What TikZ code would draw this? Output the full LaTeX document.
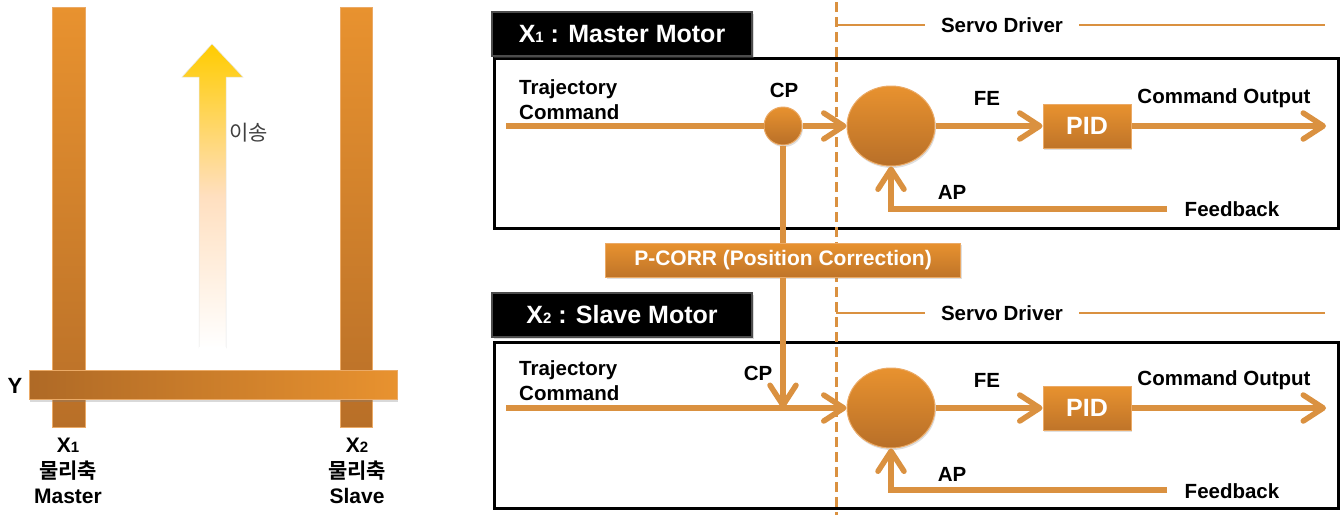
\documentclass[tikz,border=0pt]{standalone}
\usepackage{fontspec}
\setmainfont{Liberation Sans}
\newfontfamily\kr[BoldFont={Noto Sans CJK KR Bold}]{Noto Sans CJK KR}
\usetikzlibrary{arrows.meta,shapes.geometric,shadows}
\definecolor{lineor}{HTML}{DA9140}
\definecolor{barlight}{HTML}{E8922F}
\definecolor{bardark}{HTML}{B86F28}
\definecolor{edgeor}{HTML}{EBAA66}
\definecolor{krgray}{HTML}{404040}
\tikzset{
  flow/.style={draw=lineor, line width=5.5pt},
  arr/.style={flow, -{Straight Barb[length=20pt,width=26pt,round]}},
  lbl/.style={font=\bfseries\fontsize{20.5}{25}\selectfont, inner sep=0pt, align=left},
  sumc/.style={ellipse, minimum width=88pt, minimum height=80pt, top color=barlight, bottom color=bardark, draw=edgeor, line width=1pt, inner sep=0pt,
     drop shadow={opacity=0.25, shadow xshift=1pt, shadow yshift=-2pt}},
  cpc/.style={circle, minimum size=38pt, top color=barlight, bottom color=bardark, draw=edgeor, line width=1pt, inner sep=0pt,
     drop shadow={opacity=0.25, shadow xshift=1pt, shadow yshift=-2pt}},
  pidbox/.style={rectangle, minimum width=88pt, minimum height=44pt, top color=barlight, bottom color=bardark!85!barlight, draw=edgeor, line width=1pt,
     text=white, font=\bfseries\fontsize{25}{25}\selectfont, inner sep=0pt,
     drop shadow={opacity=0.25, shadow xshift=1pt, shadow yshift=-2pt}},
  hdr/.style={rectangle, minimum width=260pt, minimum height=44pt, fill=black, draw=black!70, line width=1.5pt,
     text=white, font=\bfseries\fontsize{25}{25}\selectfont, inner sep=0pt,
     drop shadow={opacity=0.3, shadow xshift=2pt, shadow yshift=-2pt}},
  boxline/.style={draw=black, line width=3pt},
  dashv/.style={draw=lineor, line width=3pt, dash pattern=on 10pt off 5pt},
  sdline/.style={draw=lineor, line width=2pt},
  vbar/.style={top color=barlight, bottom color=bardark, draw=edgeor, line width=0.8pt},
}
\newcommand{\subd}[1]{{\fontsize{15}{15}\selectfont #1}}
\begin{document}
\begin{tikzpicture}[x=1pt,y=-1pt]
\useasboundingbox (0,0) rectangle (1341,515);
% ---------- left part ----------
\path[vbar] (52,7) rectangle (85,427);
\path[vbar] (340,7) rectangle (372,427);
\path[left color=bardark!95!black, right color=barlight, draw=edgeor, line width=0.8pt,
      drop shadow={opacity=0.3, shadow xshift=1pt, shadow yshift=-3pt}] (29,370) rectangle (397,399);
\path[top color=yellow!60!orange!100, bottom color=white, middle color=orange!25!white, draw=black!10, line width=0.5pt]
  (199,348) -- (199,77) -- (182,77) -- (212,44) -- (243,77) -- (226,77) -- (226,348) -- cycle;
\fill[white] (199,347) rectangle (226,349);
\node[font=\kr\fontsize{21}{21}\selectfont, text=krgray, anchor=west, inner sep=0pt] (move) at (229,133) {이송};
\node[font=\bfseries\fontsize{22}{22}\selectfont, inner sep=0pt] (ylab) at (15,386) {Y};
\node[font=\bfseries\fontsize{21}{25.5}\selectfont, align=center, inner sep=0pt, anchor=north] (x1lab) at (68,438)
  {X\subd{1}\\{\kr\bfseries 물리축}\\Master};
\node[font=\bfseries\fontsize{21}{25.5}\selectfont, align=center, inner sep=0pt, anchor=north] (x2lab) at (357,438)
  {X\subd{2}\\{\kr\bfseries 물리축}\\Slave};
% ---------- box outlines ----------
\draw[boxline] (494,58) rectangle (1338,228);
\draw[boxline] (494,342) rectangle (1338,508);
% ---------- dashed line ----------
\coordinate (dtop) at (836,2);
\coordinate (dbot) at (836,515);
\draw[dashv] (dtop) -- (dbot);
% ---------- headers ----------
\node[hdr] (hdr1) at (622,34) {X\subd{1} : Master Motor};
\node[hdr] (hdr2) at (622,315) {X\subd{2} : Slave Motor};
% ---------- servo driver lines ----------
\node[lbl, inner xsep=16pt] (sd1) at (1002,25) {Servo Driver};
\node[lbl, inner xsep=16pt] (sd2) at (1002,313) {Servo Driver};
\coordinate (sd1l) at (836,25); \coordinate (sd1r) at (1325,25);
\coordinate (sd2l) at (836,313); \coordinate (sd2r) at (1325,313);
\draw[sdline] (sd1l) -- (sd1.west);
\draw[sdline] (sd1.east) -- (sd1r);
\draw[sdline] (sd2l) -- (sd2.west);
\draw[sdline] (sd2.east) -- (sd2r);
% ---------- master loop ----------
\coordinate (start1) at (506,126);
\node[cpc] (cp1) at (783,126) {};
\node[sumc] (sum1) at (891,126) {};
\node[pidbox] (pid1) at (1087,126) {PID};
\coordinate (out1) at (1326,126);
\coordinate (fb1) at (1167,209);
\draw[flow] (start1) -- (cp1.west);
\draw[arr] (cp1.east) -- (sum1.west);
\draw[arr] (sum1.east) -- (pid1.west);
\draw[arr] (pid1.east) -- (out1);
\draw[arr] (fb1) -| (sum1.south);
\node[lbl, anchor=west] (traj1) at (519,100) {Trajectory\\Command};
\node[lbl] (cplab1) at (784,90) {CP};
\node[lbl] (fe1) at (987,98) {FE};
\node[lbl] (co1) at (1224,98) {Command Output};
\node[lbl] (ap1) at (952,192) {AP};
\node[lbl] (fbl1) at (1232,209) {Feedback};
% ---------- P-CORR ----------
\node[rectangle, minimum width=355pt, minimum height=34pt, top color=barlight, bottom color=bardark!85!barlight, draw=edgeor, line width=1pt,
     text=white, font=\bfseries\fontsize{21}{21}\selectfont, inner sep=0pt,
     drop shadow={opacity=0.25, shadow xshift=1pt, shadow yshift=-2pt}] (pcorr) at (783,260) {P-CORR (Position Correction)};
\draw[flow] (cp1.south) -- (pcorr.north);
% ---------- slave loop ----------
\coordinate (start2) at (506,408);
\coordinate (cp2) at (783,408);
\node[sumc] (sum2) at (891,408) {};
\node[pidbox] (pid2) at (1087,408) {PID};
\coordinate (out2) at (1326,408);
\coordinate (fb2) at (1167,490);
\draw[arr] (start2) -- (sum2.west);
\draw[arr] (pcorr.south) -- (cp2);
\draw[arr] (sum2.east) -- (pid2.west);
\draw[arr] (pid2.east) -- (out2);
\draw[arr] (fb2) -| (sum2.south);
\node[lbl, anchor=west] (traj2) at (519,381) {Trajectory\\Command};
\node[lbl] (cplab2) at (758,373) {CP};
\node[lbl] (fe2) at (987,380) {FE};
\node[lbl] (co2) at (1224,380) {Command Output};
\node[lbl] (ap2) at (952,474) {AP};
\node[lbl] (fbl2) at (1232,491) {Feedback};
\end{tikzpicture}
\end{document}
